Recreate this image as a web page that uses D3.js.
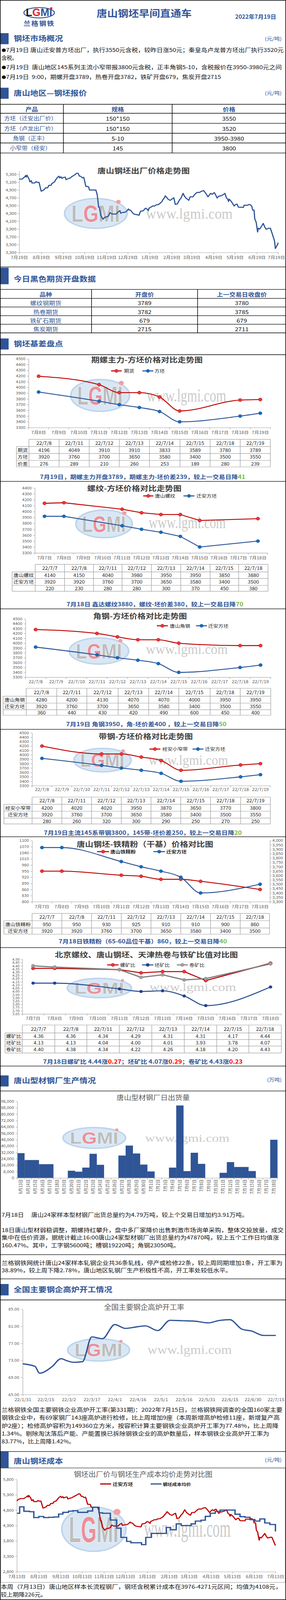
<!DOCTYPE html>
<html>
<head>
<meta charset="utf-8">
<script src="https://d3js.org/d3.v7.min.js"></script>
<style>
html, body { margin: 0; padding: 0; background: #fff; }
svg { display: block; }
</style>
</head>
<body>
<div id="page"></div>
<script>
const W = 731;
const H = 4633;
const FONT = "'Noto Sans CJK SC','Noto Sans',sans-serif";
const LATIN = "'Liberation Sans','DejaVu Sans',sans-serif";
const SERIF = "'Liberation Serif','DejaVu Serif',serif";
const BLUE = "#2f5597";
const RED = "#c00000";
const RED_MK = "#e8383d";
const BLUE_MK = "#0b6fc2";
const GRAY = "#7f7f7f";
const GREEN = "#77b843";
const GRID = "#a6a6a6";
const AXIS_TXT = "#595959";
const BODY = 15.5;

// ---------- data ----------
const reportDate = "2022年7月19日";
const marketNotes = [
    "7月19日 唐山迁安普方坯出厂，执行3550元含税，较昨日涨50元；秦皇岛卢龙普方坯出厂执行3520元",
    "含税。",
    "7月19日  唐山地区145系列主流小窄带报3800元含税，正丰角钢5-10，含税报价在3950-3980元之间",
    "7月19日  9:00，期螺开盘3789，热卷开盘3782，铁矿开盘679，焦炭开盘2715"
];

const quoteHead = ["产品", "规格", "价格"];
const quoteProducts = ["方坯（迁安出厂价）", "方坯（卢龙出厂价）", "角钢（正丰）", "小窄带（经安）"];
const quoteSpecs = ["150*150", "150*150", "5-10", "145"];
const quotePrices = ["3550", "3520", "3950-3980", "3800"];

const futHead = ["品种", "开盘价", "上一交易日收盘价"];
const futNames = ["螺纹钢期货", "热卷期货", "铁矿石期货", "焦炭期货"];
const futOpen = [3789, 3782, 679, 2715];
const futPrevClose = [3780, 3785, 679, 2711];

// 迁安方坯出厂价 (daily)
const billetSeries = [
    ["2021-07-13",5100],["2021-07-15",5150],["2021-07-19",5180],["2021-07-23",5180],["2021-07-27",5240],
    ["2021-07-28",5270],["2021-07-29",5230],["2021-07-30",5280],["2021-08-02",5180],["2021-08-03",5110],
    ["2021-08-05",5140],["2021-08-06",5080],["2021-08-10",5080],["2021-08-12",5115],["2021-08-13",5095],
    ["2021-08-16",5095],["2021-08-19",4870],["2021-08-20",4875],["2021-08-23",4905],["2021-08-25",4955],
    ["2021-08-28",4955],["2021-08-30",5020],["2021-09-02",5020],["2021-09-03",5065],["2021-09-07",5110],
    ["2021-09-08",5150],["2021-09-11",5225],["2021-09-13",5255],["2021-09-14",5210],["2021-09-16",5240],
    ["2021-09-17",5200],["2021-09-20",5225],["2021-09-22",5230],["2021-09-23",5165],["2021-09-25",5185],
    ["2021-09-27",5195],["2021-09-29",5210],["2021-10-01",5240],["2021-10-05",5285],["2021-10-08",5330],
    ["2021-10-10",5330],["2021-10-12",5255],["2021-10-14",5250],["2021-10-16",5210],["2021-10-18",5225],
    ["2021-10-19",5150],["2021-10-21",4990],["2021-10-24",4990],["2021-10-25",4975],["2021-10-26",4900],
    ["2021-11-04",4900],["2021-11-06",4780],["2021-11-08",4460],["2021-11-09",4460],["2021-11-11",4250],
    ["2021-11-14",4150],["2021-11-16",4190],["2021-11-17",4205],["2021-11-20",4215],["2021-11-22",4235],
    ["2021-11-24",4320],["2021-11-25",4305],["2021-11-27",4285],["2021-12-03",4285],["2021-12-05",4335],
    ["2021-12-08",4370],["2021-12-09",4305],["2021-12-12",4325],["2021-12-16",4335],["2021-12-18",4370],
    ["2021-12-20",4415],["2021-12-21",4385],["2021-12-23",4385],["2021-12-26",4310],["2021-12-28",4280],
    ["2021-12-30",4275],["2022-01-04",4255],["2022-01-05",4310],["2022-01-06",4355],["2022-01-10",4370],
    ["2022-01-13",4435],["2022-01-15",4415],["2022-01-17",4370],["2022-01-18",4435],["2022-01-21",4465],
    ["2022-01-23",4490],["2022-01-26",4490],["2022-01-28",4520],["2022-01-31",4525],["2022-02-03",4565],
    ["2022-02-05",4600],["2022-02-07",4665],["2022-02-08",4680],["2022-02-10",4750],["2022-02-12",4710],
    ["2022-02-14",4660],["2022-02-17",4635],["2022-02-19",4665],["2022-02-22",4700],["2022-02-24",4530],
    ["2022-02-27",4545],["2022-03-02",4650],["2022-03-04",4690],["2022-03-07",4815],["2022-03-09",4740],
    ["2022-03-11",4695],["2022-03-15",4635],["2022-03-17",4725],["2022-03-21",4725],["2022-03-22",4755],
    ["2022-03-25",4815],["2022-03-27",4840],["2022-03-30",4835],["2022-04-02",4870],["2022-04-05",4885],
    ["2022-04-08",4815],["2022-04-11",4725],["2022-04-13",4775],["2022-04-15",4815],["2022-04-17",4790],
    ["2022-04-20",4835],["2022-04-22",4770],["2022-04-24",4695],["2022-04-26",4740],["2022-04-30",4755],
    ["2022-05-03",4785],["2022-05-05",4815],["2022-05-07",4700],["2022-05-09",4665],["2022-05-10",4605],
    ["2022-05-11",4665],["2022-05-14",4605],["2022-05-18",4490],["2022-05-20",4530],["2022-05-22",4540],
    ["2022-05-24",4460],["2022-05-31",4455],["2022-06-01",4510],["2022-06-06",4510],["2022-06-08",4530],
    ["2022-06-10",4520],["2022-06-12",4475],["2022-06-13",4385],["2022-06-15",4385],["2022-06-16",4160],
    ["2022-06-18",4075],["2022-06-20",3825],["2022-06-21",3920],["2022-06-23",3900],["2022-06-26",3985],
    ["2022-06-28",4045],["2022-06-30",3955],["2022-07-02",3895],["2022-07-06",3920],["2022-07-08",3920],
    ["2022-07-11",3760],["2022-07-12",3700],["2022-07-13",3650],["2022-07-14",3580],["2022-07-15",3400],
    ["2022-07-18",3500],["2022-07-19",3550]
];
const billetTicks = [3300, 3500, 3700, 3900, 4100, 4300, 4500, 4700, 4900, 5100, 5300];

// category axes
const days8to19 = ["7月8日","7月9日","7月10日","7月11日","7月12日","7月13日","7月14日","7月15日","7月16日","7月17日","7月18日","7月19日"];
const days7to18 = ["7月7日","7月8日","7月9日","7月10日","7月11日","7月12日","7月13日","7月14日","7月15日","7月16日","7月17日","7月18日"];
const ymd8to19 = ["22/7/8","22/7/9","22/7/10","22/7/11","22/7/12","22/7/13","22/7/14","22/7/15","22/7/16","22/7/17","22/7/18","22/7/19"];
const trade8to19 = ["22/7/8","22/7/11","22/7/12","22/7/13","22/7/14","22/7/15","22/7/18","22/7/19"];
const trade7to18 = ["22/7/7","22/7/8","22/7/11","22/7/12","22/7/13","22/7/14","22/7/15","22/7/18"];

// 期螺主力-方坯
const rebarFut = [4196, 4049, 3910, 3910, 3833, 3589, 3780, 3789];
const billetFut = [3920, 3760, 3700, 3650, 3580, 3400, 3500, 3550];
const spreadFut = [276, 289, 210, 260, 253, 189, 280, 239];
const ticks3300to4500 = [3300,3400,3500,3600,3700,3800,3900,4000,4100,4200,4300,4400,4500];

// 螺纹-方坯
const rebarTs = [4140, 4150, 4040, 3980, 3950, 3950, 3850, 3880];
const billetRebar = [3920, 3920, 3760, 3700, 3650, 3580, 3400, 3500];
const spreadRebar = [220, 230, 280, 280, 300, 370, 450, 380];
const ticks3300to4400 = [3300,3400,3500,3600,3700,3800,3900,4000,4100,4200,4300,4400];

// 角钢-方坯
const angleTs = [4280, 4200, 4130, 4070, 4070, 4000, 3950, 3950];
const billetAngle = [3920, 3760, 3700, 3650, 3580, 3400, 3500, 3550];
const spreadAngle = [360, 440, 430, 420, 490, 600, 450, 400];

// 带钢-方坯
const stripJa = [4200, 4020, 4020, 3950, 3870, 3650, 3770, 3800];
const billetStrip = [3920, 3760, 3700, 3650, 3580, 3400, 3500, 3550];
const spreadStrip = [280, 260, 320, 300, 290, 250, 270, 250];

// 钢坯-铁精粉
const oreTs = [950, 950, 930, 925, 910, 910, 900, 860];
const billetOre = [3920, 3920, 3760, 3700, 3650, 3580, 3400, 3500];
const oreTicks = [800, 830, 860, 890, 920, 950, 980, 1010, 1040, 1070, 1100];
const oreBilletTicks = [3300,3350,3400,3450,3500,3550,3600,3650,3700,3750,3800,3850,3900,3950,4000];

// 比值
const rebarOre = [4.36, 4.36, 4.34, 4.29, 4.31, 4.31, 4.17, 4.44];
const billetOreRatio = [4.13, 4.13, 4.04, 4.00, 4.01, 3.93, 3.78, 4.07];
const coilOre = [4.40, 4.38, 4.34, 4.22, 4.26, 4.18, 4.20, 4.43];
const ratioTicks = [3.65,3.70,3.75,3.80,3.85,3.90,3.95,4.00,4.05,4.10,4.15,4.20,4.25,4.30,4.35,4.40,4.45,4.50];

// 型材日出货量
const shipDays = ["6月13日","6月14日","6月15日","6月16日","6月17日","6月18日","6月19日","6月20日","6月21日",
    "6月22日","6月23日","6月24日","6月25日","6月26日","6月27日","6月28日","6月29日","6月30日",
    "7月1日","7月2日","7月3日","7月4日","7月5日","7月6日","7月7日","7月8日","7月9日",
    "7月10日","7月11日","7月12日","7月13日","7月14日","7月15日","7月16日","7月17日","7月18日"];
const shipTons = [31100, 22500, 22500, 17300, 17300, 0, 0, 9100, 7900,
    13000, 30300, 16500, 0, 0, 28100, 40600, 30700, 16800,
    8200, 0, 0, 13000, 90800, 8600, 31600, 17700, 0,
    0, 6500, 19900, 13800, 13800, 8700, 0, 0, 47870];
const shipTicks = [0,8000,16000,24000,32000,40000,48000,56000,64000,72000,80000,88000,96000];

// 全国高炉开工率
const furnaceSeries = [
    ["2022-01-31",72.2],["2022-02-08",71.6],["2022-02-11",70.0],["2022-02-19",71.5],["2022-02-25",73.4],
    ["2022-03-01",72.9],["2022-03-05",72.55],["2022-03-11",72.7],["2022-03-17",78.5],["2022-03-24",78.1],
    ["2022-04-01",81.4],["2022-04-08",80.5],["2022-04-16",80.9],["2022-04-21",81.1],["2022-04-29",80.0],
    ["2022-05-07",82.4],["2022-05-15",82.3],["2022-05-23",82.2],["2022-06-01",81.8],["2022-06-08",82.35],
    ["2022-06-15",82.55],["2022-06-23",80.3],["2022-06-29",79.9],["2022-07-07",78.85],["2022-07-15",78.85]
];
const furnaceTicks = [65, 69, 73, 77, 81, 85];

// 钢坯成本均价 (weekly steps)
const costSeries = [
    ["2021-07-13",4700],["2021-07-17",4910],["2021-07-23",4765],["2021-07-31",4750],["2021-08-06",4560],
    ["2021-08-13",4595],["2021-08-20",4560],["2021-08-27",4570],["2021-09-03",4580],["2021-09-10",4675],
    ["2021-09-16",4730],["2021-09-24",4770],["2021-09-30",4785],["2021-10-07",4730],["2021-10-21",4775],
    ["2021-10-28",4895],["2021-11-06",4715],["2021-11-11",4700],["2021-11-22",4480],["2021-12-01",4215],
    ["2021-12-07",3915],["2021-12-15",3785],["2021-12-21",3740],["2022-01-05",3680],["2022-01-11",3915],
    ["2022-01-19",4045],["2022-02-09",4240],["2022-02-15",4165],["2022-02-23",4355],["2022-03-02",4300],
    ["2022-03-16",4355],["2022-03-22",4445],["2022-03-30",4475],["2022-04-05",4600],["2022-04-12",4700],
    ["2022-04-19",4760],["2022-04-26",4805],["2022-05-17",4670],["2022-05-24",4590],["2022-05-31",4570],
    ["2022-06-07",4495],["2022-06-14",4445],["2022-06-21",4515],["2022-06-28",4385],["2022-07-05",4335],
    ["2022-07-13",4108]
];
const costTicks = [2800, 3300, 3800, 4300, 4800, 5300, 5800];

const shipNote = ["7月18日", "唐山24家样本型材钢厂出货总量约为4.79万吨，较上个交易日增加约3.91万吨。"];
const shipPara = [
    "18日唐山型材弱稳调整，期螺持红攀升，盘中多厂家降价出售刺激市场询单采购，整体交投放量，成交",
    "集中在低价资源，据统计截止16:00唐山24家型材钢厂出货总量约为47870吨，较上五个工作日均值涨",
    "160.47%。其中，工字钢5600吨；槽钢19220吨；角钢23050吨。"
];
const millPara = [
    "兰格钢铁网统计唐山24家样本轧钢企业共36条轧线，停产或检修22条，较上周同期增加1条，开工率为",
    "38.89%，较上周下降2.78%，唐山地区轧钢厂生产积极性不高，开工率处较低水平。"
];
const furnacePara = [
    "兰格钢铁全国主要钢铁企业高炉开工率(第331期)：2022年7月15日，兰格钢铁网调查的全国160家主要",
    "钢铁企业中，有69家钢厂143座高炉进行检修，比上周增加9座（本周新增高炉检修11座，新增复产高",
    "炉2座）；检修高炉容积为149360立方米，按容积计算主要钢铁企业高炉开工率为77.48%，比上周降",
    "1.34%。剔除淘汰落后产能、产能置换已拆除钢铁企业的高炉数量后，样本钢铁企业高炉开工率为",
    "83.77%，比上周降1.42%。"
];
const costPara = [
    "本周（7月13日）唐山地区样本长流程钢厂，钢坯含税累计成本在3976-4271元区间；均值为4108元，",
    "较上期降226元。"
];

// ---------- helpers ----------
const parseDate = d3.timeParse("%Y-%m-%d");
const dayNum = s => +s.match(/(\d+)\D*$/)[1];

// the whole sheet is laid out on a 731x4633 canvas; if the window turns out
// shorter than that, squeeze it vertically so nothing drops off the bottom
const viewH = Math.min(H, window.innerHeight || H);

const svg = d3.select("#page").append("svg")
    .attr("width", W).attr("height", viewH)
    .attr("viewBox", `0 0 ${W} ${H}`)
    .attr("preserveAspectRatio", "none")
    .attr("font-family", FONT);
svg.append("rect").attr("width", W).attr("height", H).attr("fill", "#fff");

const txt = (parent, x, y, s, o = {}) => {
    const t = parent.append("text")
        .attr("x", x).attr("y", y)
        .attr("font-size", o.size || 16)
        .attr("font-weight", o.weight || 400)
        .attr("fill", o.fill || "#000")
        .attr("text-anchor", o.anchor || "start")
        .style("white-space", "pre");
    if (o.len) t.attr("textLength", o.len).attr("lengthAdjust", "spacingAndGlyphs");
    t.text(s);
    return t;
};

const hline = (y, color = "#000", sw = 1.5) => {
    svg.append("line").attr("x1", 0).attr("x2", W).attr("y1", y).attr("y2", y)
        .attr("stroke", color).attr("stroke-width", sw);
};

const sectionHead = (y0, y1, base, title, unit, unitBase) => {
    svg.append("rect").attr("x", 0).attr("y", y0).attr("width", 22).attr("height", y1 - y0).attr("fill", BLUE);
    txt(svg, 35, base, title, { size: 21, weight: 700, fill: BLUE });
    if (unit) txt(svg, 720, unitBase, unit, { size: 14, fill: BLUE, anchor: "end" });
};

const textBlock = (lines, lens, x, y0, lh) => {
    lines.forEach((s, i) => txt(svg, x, y0 + i * lh, s, { size: BODY, len: lens[i], fill: "#111" }));
};

const axisStyle = (sel, fs) => {
    sel.attr("font-family", FONT).attr("font-size", fs);
    sel.select(".domain").attr("stroke", GRID).attr("stroke-width", 1.2);
    sel.selectAll(".tick line").attr("stroke", GRID).attr("stroke-width", 1.2);
    sel.selectAll(".tick text").attr("fill", AXIS_TXT);
};

const grid = p => {
    const g = svg.append("g");
    const { cols, rows } = p;
    const xr = cols[cols.length - 1], yb = rows[rows.length - 1];
    rows.forEach((ry, i) => {
        g.append("line").attr("x1", p.corner && i === 0 ? cols[1] : cols[0]).attr("x2", xr)
            .attr("y1", ry).attr("y2", ry).attr("stroke", p.stroke).attr("stroke-width", p.sw);
    });
    cols.forEach((cx, j) => {
        g.append("line").attr("x1", cx).attr("x2", cx)
            .attr("y1", p.corner && j === 0 ? rows[1] : rows[0]).attr("y2", yb)
            .attr("stroke", p.stroke).attr("stroke-width", p.sw);
    });
    p.cells.forEach((row, i) => row.forEach((s, j) => {
        if (s === "" || s == null) return;
        const st = p.style(i, j);
        g.append("text")
            .attr("x", (cols[j] + cols[j + 1]) / 2 + (st.dx || 0))
            .attr("y", (rows[i] + rows[i + 1]) / 2)
            .attr("dominant-baseline", "central").attr("text-anchor", "middle")
            .attr("font-size", st.size).attr("font-weight", st.weight || 400)
            .attr("fill", st.fill).text(s);
    }));
};

const chartTable = (cols, rows, header, body) => grid({
    cols, rows, corner: true, stroke: "#a0a0a0", sw: 1.3,
    cells: [[""].concat(header)].concat(body),
    style: () => ({ size: 13, fill: "#222" })
});

// LGMI watermark: pale ellipse logo plus the site address
const watermark = (g, w) => {
    g.append("ellipse").attr("cx", w.cx).attr("cy", w.cy).attr("rx", w.rx).attr("ry", w.ry)
        .attr("fill", "#d3e3f3").attr("stroke", "#b2cde9").attr("stroke-width", 4).attr("opacity", 0.85);
    const fs = w.rx * 0.62;
    const sy = (w.ry * 1.17) / (0.72 * fs);
    const t = g.append("text")
        .attr("transform", `translate(${w.cx - w.rx * 0.78},${w.cy + w.ry * 0.58}) scale(1,${sy})`)
        .attr("font-family", LATIN).attr("font-weight", "bold").attr("font-size", fs)
        .attr("stroke", "#fff").attr("stroke-width", 1.2).attr("paint-order", "stroke");
    [["L", "#bdbdbd"], ["G", "#eb8f98"], ["M", "#bdbdbd"], ["I", "#bdbdbd"]]
        .forEach(([ch, col]) => t.append("tspan").attr("fill", col).text(ch));
    g.append("circle").attr("cx", w.cx + w.rx * 0.72).attr("cy", w.cy - w.ry * 0.78)
        .attr("r", w.ry * 0.14).attr("fill", "#f0a0a4");
    g.append("text").attr("transform", `translate(${w.tx},${w.ty}) scale(1,${w.sy || 1})`)
        .attr("font-family", SERIF).attr("font-size", w.fs).attr("fill", "#cacaca")
        .text("www.lgmi.com");
};

const chartTitle = (g, t) => {
    g.append("text").attr("x", t.x).attr("y", t.y)
        .attr("font-size", t.size || 21).attr("font-weight", t.weight ?? 700)
        .attr("fill", t.fill || "#404040")
        .attr("textLength", t.len).attr("lengthAdjust", "spacingAndGlyphs")
        .text(t.text);
};

const legendItem = (g, it) => {
    g.append("line").attr("x1", it.x).attr("x2", it.x + it.len).attr("y1", it.y).attr("y2", it.y)
        .attr("stroke", it.color).attr("stroke-width", it.sw || 3);
    if (it.fill) {
        g.append("circle").attr("cx", it.x + it.len / 2).attr("cy", it.y).attr("r", 4.5)
            .attr("fill", it.fill).attr("stroke", it.color).attr("stroke-width", 1);
    }
    g.append("text").attr("x", it.tx).attr("y", it.y).attr("dominant-baseline", "central")
        .attr("font-size", it.size || 13).attr("font-weight", it.weight || 400)
        .attr("fill", "#262626").text(it.label);
};

const summary = (x, y, len, parts) => {
    const t = svg.append("text").attr("x", x).attr("y", y).attr("font-size", 16).attr("font-weight", 700)
        .attr("textLength", len).attr("lengthAdjust", "spacingAndGlyphs").style("white-space", "pre");
    parts.forEach(([s, c]) => t.append("tspan").attr("fill", c || BLUE).text(s));
};

const catChart = c => {
    const g = svg.append("g");
    if (c.wm) watermark(g, c.wm);
    const x = d3.scaleBand().domain(c.cats).range([c.x0, c.x1]);
    const bw = x.bandwidth();
    const yL = d3.scaleLinear().domain([c.ticks[0], c.ticks[c.ticks.length - 1]]).range([c.yb, c.yt]);
    g.append("g").attr("transform", `translate(${c.x0},0)`)
        .call(d3.axisLeft(yL).tickValues(c.ticks).tickFormat(c.fmt || d3.format("d"))
            .tickSize(4).tickPadding(c.yPad || 4).tickSizeOuter(0))
        .call(axisStyle, c.yFont || 11);
    let yR = null;
    if (c.ticksR) {
        yR = d3.scaleLinear().domain([c.ticksR[0], c.ticksR[c.ticksR.length - 1]]).range([c.yb, c.yt]);
        g.append("g").attr("transform", `translate(${c.x1},0)`)
            .call(d3.axisRight(yR).tickValues(c.ticksR).tickSize(4).tickPadding(2).tickSizeOuter(0))
            .call(axisStyle, 11);
    }
    const xa = g.append("g").attr("transform", `translate(0,${c.yb})`)
        .call(d3.axisBottom(x).tickSize(0).tickPadding(c.labelBase - c.yb - 8.5).tickSizeOuter(0))
        .call(axisStyle, 12);
    xa.selectAll("line.bound").data(c.cats.map(d => x(d)).concat([c.x1])).join("line")
        .attr("class", "bound").attr("x1", d => d).attr("x2", d => d).attr("y1", 0).attr("y2", 5)
        .attr("stroke", GRID).attr("stroke-width", 1.2);
    chartTitle(g, c.title);
    c.series.forEach(s => {
        const ys = s.right ? yR : yL;
        const pts = s.dates.map((d, i) => {
            const cat = c.cats.find(k => dayNum(k) === dayNum(d));
            return [x(cat) + bw / 2, ys(s.values[i])];
        });
        g.append("path")
            .attr("d", d3.line().curve(s.smooth ? d3.curveMonotoneX : d3.curveLinear)(pts))
            .attr("fill", "none").attr("stroke", s.color).attr("stroke-width", s.sw || 2.6)
            .attr("stroke-linejoin", "round");
        g.selectAll(null).data(pts).join("circle")
            .attr("cx", d => d[0]).attr("cy", d => d[1]).attr("r", s.r || 4.5)
            .attr("fill", s.fill).attr("stroke", s.color).attr("stroke-width", 1);
    });
    c.series.forEach(s => legendItem(g, Object.assign({ color: s.color, fill: s.fill, label: s.label }, s.legend)));
};

// ---------- header ----------
const logo = svg.append("g");
logo.append("ellipse").attr("cx", 100).attr("cy", 37).attr("rx", 39).attr("ry", 15)
    .attr("fill", "#fff").attr("stroke", BLUE).attr("stroke-width", 2.5);
const logoText = logo.append("text").attr("transform", "translate(66,46) scale(1,1.15)")
    .attr("font-family", LATIN).attr("font-weight", "bold").attr("font-size", 27);
[["L", "#1a1a1a"], ["G", "#d7262e"], ["M", BLUE], ["I", BLUE]]
    .forEach(([ch, col]) => logoText.append("tspan").attr("fill", col).text(ch));
logo.append("circle").attr("cx", 131).attr("cy", 24).attr("r", 3).attr("fill", "#e02a2a");
txt(svg, 100, 75, "兰格钢铁", { size: 18, weight: 700, fill: BLUE, anchor: "middle" }).attr("letter-spacing", 2);

txt(svg, 247, 49, "唐山钢坯早间直通车", { size: 27, weight: 700, fill: BLUE, len: 243 });
txt(svg, 601, 54, reportDate, { size: 16, weight: 700, fill: BLUE, len: 105 });

// ---------- 钢坯市场概况 ----------
sectionHead(96, 128, 119, "钢坯市场概况", "(元/吨)", 118);
const noteLayout = [
    { y: 150, len: 721, dot: true }, { y: 173, len: 40, dot: false },
    { y: 200, len: 716, dot: true }, { y: 228, len: 561, dot: true }
];
marketNotes.forEach((s, i) => {
    const L = noteLayout[i];
    const t = svg.append("text").attr("x", 4).attr("y", L.y).attr("font-size", BODY).attr("fill", "#111")
        .attr("textLength", L.len).attr("lengthAdjust", "spacingAndGlyphs").style("white-space", "pre");
    if (L.dot) t.append("tspan").attr("font-size", 11).text("●");
    t.append("tspan").attr("font-size", BODY).text(s);
});

// ---------- 唐山地区—钢坯报价 ----------
sectionHead(254, 286, 277, "唐山地区—钢坯报价", "(元/吨)", 275);
grid({
    cols: [0, 162, 440, 731], rows: [302, 328, 357, 386, 414, 443], stroke: "#000", sw: 1.5,
    cells: [quoteHead].concat(quoteProducts.map((p, i) => [p, quoteSpecs[i], quotePrices[i]])),
    style: (i, j) => i === 0 ? { size: 16, weight: 700, fill: BLUE }
        : j === 0 ? { size: 15, fill: BLUE, dx: -3 } : { size: 16, fill: "#111" }
});

// ---------- 唐山钢坯出厂价格走势图 ----------
(() => {
    const g = svg.append("g");
    watermark(g, { cx: 245, cy: 618, rx: 80, ry: 43, tx: 373, ty: 633, fs: 36, sy: 1.2 });
    const x = d3.scaleTime().domain([parseDate("2021-07-19"), parseDate("2022-07-19")]).range([49, 711]);
    const y0 = d3.scaleLinear().domain([3300, 5300]).range([731, 505]);
    const y = d3.scaleLinear().domain([3300, 5390]).range([731, y0(5390)]);
    g.append("g").attr("transform", "translate(49,0)")
        .call(d3.axisLeft(y).tickValues(billetTicks).tickSize(4).tickPadding(3).tickSizeOuter(0))
        .call(axisStyle, 11);
    const months = d3.range(13).map(i => d3.timeMonth.offset(x.domain()[0], i));
    const xa = g.append("g").attr("transform", "translate(0,731)")
        .call(d3.axisBottom(x).tickValues(months).tickFormat(d3.timeFormat("%-m月%-d日"))
            .tickSize(5).tickPadding(5.5).tickSizeOuter(0))
        .call(axisStyle, 12);
    // last label sits against the frame, as in the source
    xa.selectAll(".tick text").filter((d, i, n) => i === n.length - 1)
        .attr("text-anchor", "end").attr("x", 17);
    chartTitle(g, { text: "唐山钢坯出厂价格走势图", x: 249, y: 502, len: 236 });
    const pts = billetSeries.map(([d, v]) => ({ date: parseDate(d), v }))
        .filter(d => d.date >= x.domain()[0] && d.date <= x.domain()[1]);
    g.append("path")
        .attr("d", d3.line().x(d => x(d.date)).y(d => y(d.v))(pts))
        .attr("fill", "none").attr("stroke", BLUE).attr("stroke-width", 3).attr("stroke-linejoin", "round");
})();
hline(773);

// ---------- 今日黑色期货开盘数据 ----------
sectionHead(775, 823, 815, "今日黑色期货开盘数据");
grid({
    cols: [0, 234, 505, 731], rows: [838, 864, 889, 914, 939, 964], stroke: "#000", sw: 1.5,
    cells: [futHead].concat(futNames.map((n, i) => [n, String(futOpen[i]), String(futPrevClose[i])])),
    style: (i, j) => i === 0 ? { size: 16, weight: 700, fill: BLUE }
        : j === 0 ? { size: 16, fill: BLUE } : { size: 16, fill: "#111" }
});

// ---------- 钢坯基差盘点 ----------
sectionHead(980, 1012, 1003, "钢坯基差盘点");
hline(1027);

catChart({
    cats: days8to19, x0: 73, x1: 691, yt: 1039, yb: 1238, ticks: ticks3300to4500, labelBase: 1257,
    title: { text: "期螺主力-方坯价格对比走势图", x: 233, y: 1050, len: 285 },
    wm: { cx: 256, cy: 1145, rx: 75, ry: 46, tx: 375, ty: 1163, fs: 33, sy: 1.6 },
    series: [
        { dates: trade8to19, values: rebarFut, color: RED, fill: RED_MK, smooth: true, label: "期货",
          legend: { x: 284, y: 1074, len: 27, tx: 317 } },
        { dates: trade8to19, values: billetFut, color: BLUE, fill: BLUE_MK, smooth: true, label: "方坯",
          legend: { x: 364, y: 1074, len: 28, tx: 395 } }
    ]
});
chartTable([42, 74, 151, 228, 305, 382, 460, 537, 614, 691], [1272, 1293, 1313, 1333, 1352], trade8to19,
    [["期货"].concat(rebarFut), ["方坯"].concat(billetFut), ["价差"].concat(spreadFut)]);
summary(102, 1387, 525, [["7月19日，期螺主力开盘3789，期螺主力-坯价差239，较上一交易日降"], ["41", GREEN]]);
hline(1394);

catChart({
    cats: days7to18, x0: 89, x1: 684, yt: 1413, yb: 1601, ticks: ticks3300to4400, labelBase: 1620,
    title: { text: "螺纹-方坯价格对比走势图", x: 223, y: 1422, len: 241 },
    wm: { cx: 266, cy: 1517, rx: 72, ry: 40, tx: 380, ty: 1529, fs: 32, sy: 1.55 },
    series: [
        { dates: trade7to18, values: rebarTs, color: RED, fill: RED_MK, smooth: false, label: "唐山螺纹",
          legend: { x: 366, y: 1436, len: 26, tx: 396 } },
        { dates: trade7to18, values: billetRebar, color: BLUE, fill: BLUE_MK, smooth: false, label: "迁安方坯",
          legend: { x: 469, y: 1436, len: 28, tx: 502 } }
    ]
});
chartTable([31, 90, 165, 239, 312, 387, 462, 537, 610, 685], [1634, 1656, 1675, 1695, 1712], trade7to18,
    [["唐山螺纹"].concat(rebarTs), ["迁安方坯"].concat(billetRebar), [""].concat(spreadRebar)]);
summary(170, 1755, 452, [["7月18日 鑫达螺纹3880，螺纹-坯价差380，较上一交易日降"], ["70", GREEN]]);
hline(1763);

catChart({
    cats: ymd8to19, x0: 65, x1: 692, yt: 1792, yb: 1961, ticks: ticks3300to4500, labelBase: 1978,
    title: { text: "角钢-方坯价格对比走势图", x: 238, y: 1792, len: 240 },
    wm: { cx: 253, cy: 1885, rx: 76, ry: 38, tx: 373, ty: 1894, fs: 34, sy: 1.2 },
    series: [
        { dates: trade8to19, values: angleTs, color: RED, fill: RED_MK, smooth: true, label: "唐山角钢",
          legend: { x: 401, y: 1812, len: 28, tx: 434 } },
        { dates: trade8to19, values: billetAngle, color: BLUE, fill: BLUE_MK, smooth: true, label: "迁安方坯",
          legend: { x: 501, y: 1812, len: 28, tx: 532 } }
    ]
});
chartTable([8, 67, 145, 222, 302, 380, 457, 537, 614, 692], [1993, 2016, 2036, 2055, 2071], trade8to19,
    [["唐山角钢"].concat(angleTs), ["迁安方坯"].concat(billetAngle), [""].concat(spreadAngle)]);
summary(169, 2103, 410, [["7月19日 角钢3950，角-坯价差400 ，较上一交易日降"], ["50", GREEN]]);
hline(2112);

catChart({
    cats: ymd8to19, x0: 82, x1: 691, yt: 2122, yb: 2275, ticks: ticks3300to4500, labelBase: 2290,
    title: { text: "带钢-方坯价格对比走势图", x: 252, y: 2140, len: 241 },
    wm: { cx: 262, cy: 2201, rx: 73, ry: 34, tx: 380, ty: 2215, fs: 33, sy: 1.2 },
    series: [
        { dates: trade8to19, values: stripJa, color: RED, fill: RED_MK, smooth: true, label: "经安小窄带",
          legend: { x: 382, y: 2169, len: 28, tx: 415 } },
        { dates: trade8to19, values: billetStrip, color: BLUE, fill: BLUE_MK, smooth: true, label: "迁安方坯",
          legend: { x: 492, y: 2169, len: 28, tx: 524 } }
    ]
});
chartTable([10, 82, 158, 234, 310, 386, 462, 538, 615, 691], [2308, 2329, 2349, 2369, 2386], trade8to19,
    [["经安小窄带"].concat(stripJa), ["迁安方坯"].concat(billetStrip), [""].concat(spreadStrip)]);
summary(112, 2417, 506, [["7月19日主流145系带钢3800，145带-坯价差250，较上一交易日降"], ["20", GREEN]]);
hline(2423);

catChart({
    cats: days7to18, x0: 82, x1: 690, yt: 2434, yb: 2611, ticks: oreTicks, ticksR: oreBilletTicks, labelBase: 2630,
    title: { text: "唐山钢坯-铁精粉（干基）价格对比图", x: 196, y: 2452, len: 349 },
    series: [
        { dates: trade7to18, values: oreTs, color: RED, fill: RED_MK, smooth: true, label: "唐山铁精粉",
          legend: { x: 248, y: 2466, len: 31, tx: 282, weight: 700 } },
        { dates: trade7to18, values: billetOre, right: true, color: BLUE, fill: BLUE_MK, smooth: true, label: "迁安方坯",
          legend: { x: 392, y: 2466, len: 30, tx: 425, weight: 700 } }
    ]
});
chartTable([10, 82, 158, 234, 310, 386, 462, 538, 614, 689], [2645, 2666, 2687, 2705], trade7to18,
    [["唐山铁精粉"].concat(oreTs), ["迁安方坯"].concat(billetOre)]);
summary(150, 2732, 430, [["7月18日铁精粉（65-60品位干基）860，较上一交易日降"], ["40", GREEN]]);
hline(2744);

catChart({
    cats: days7to18, x0: 57, x1: 719, yt: 2778, yb: 2936, ticks: ratioTicks, labelBase: 2953,
    fmt: d3.format(".2f"), yFont: 9.5, yPad: 3,
    title: { text: "北京螺纹、唐山钢坯、天津热卷与铁矿比值对比图", x: 140, y: 2772, len: 468 },
    wm: { cx: 254, cy: 2861, rx: 82, ry: 28, tx: 382, ty: 2870, fs: 36, sy: 0.9 },
    series: [
        { dates: trade7to18, values: rebarOre, color: RED, fill: RED_MK, smooth: false, sw: 3, label: "螺矿比",
          legend: { x: 274, y: 2794, len: 29, tx: 307 } },
        { dates: trade7to18, values: billetOreRatio, color: BLUE, fill: "#1f3f8f", smooth: true, sw: 3, r: 4, label: "坯矿比",
          legend: { x: 363, y: 2794, len: 29, tx: 395 } },
        { dates: trade7to18, values: coilOre, color: GRAY, fill: "#a0a0a0", smooth: false, sw: 3.5, label: "卷矿比",
          legend: { x: 452, y: 2794, len: 28, tx: 484 } }
    ]
});
chartTable([13, 57, 140, 222, 305, 388, 471, 554, 636, 719], [2968, 2991, 3010, 3029, 3049], trade7to18,
    [["螺矿比"].concat(rebarOre.map(d3.format(".2f"))),
     ["坯矿比"].concat(billetOreRatio.map(d3.format(".2f"))),
     ["卷矿比"].concat(coilOre.map(d3.format(".2f")))]);
summary(110, 3080, 510, [["7月18日螺矿比 4.44涨"], ["0.27", "#ff0000"], ["；坯矿比 4.07涨"], ["0.29", "#ff0000"],
    ["；卷矿比 4.43涨"], ["0.23", "#ff0000"]]);
hline(3087);

// ---------- 唐山型材钢厂生产情况 ----------
sectionHead(3114, 3146, 3137, "唐山型材钢厂生产情况", "(万吨)", 3132);
hline(3159);
(() => {
    const g = svg.append("g");
    watermark(g, { cx: 241, cy: 3295, rx: 80, ry: 30, tx: 371, ty: 3306, fs: 35, sy: 0.9 });
    const x = d3.scaleBand().domain(shipDays).range([44, 709]);
    const y = d3.scaleLinear().domain([0, 96000]).range([3411, 3189]);
    chartTitle(g, { text: "唐山型材钢厂日出货量", x: 298, y: 3185, len: 187, size: 19, weight: 400, fill: "#595959" });
    g.selectAll(null).data(shipTons).join("rect")
        .attr("x", (d, i) => x(shipDays[i])).attr("width", x.bandwidth() + 0.3)
        .attr("y", d => y(d)).attr("height", d => y(0) - y(d)).attr("fill", BLUE);
    g.append("g").attr("transform", "translate(44,0)")
        .call(d3.axisLeft(y).tickValues(shipTicks).tickSize(4).tickPadding(4).tickSizeOuter(0))
        .call(axisStyle, 11);
    const xa = g.append("g").attr("transform", "translate(0,3411)")
        .call(d3.axisBottom(x).tickSize(0).tickSizeOuter(0))
        .call(axisStyle, 11.5);
    xa.selectAll(".tick text").attr("transform", "rotate(-90)").attr("text-anchor", "end")
        .attr("x", -4).attr("y", 0).attr("dy", "0.35em");
    xa.selectAll("line.bound").data(shipDays.map(d => x(d)).concat([709])).join("line")
        .attr("class", "bound").attr("x1", d => d).attr("x2", d => d).attr("y1", 0).attr("y2", 5)
        .attr("stroke", GRID).attr("stroke-width", 1.2);
})();
txt(svg, 4, 3523, shipNote[0], { size: BODY, fill: "#111", len: 57 });
txt(svg, 80, 3523, shipNote[1], { size: BODY, fill: "#111", len: 554 });
textBlock(shipPara, [721, 709, 455], 4, 3567, 22.5);
hline(3633);
textBlock(millPara, [718, 588], 4, 3662, 22);
hline(3703);

// ---------- 全国主要钢企高炉开工情况 ----------
sectionHead(3718, 3751, 3742, "全国主要钢企高炉开工情况");
hline(3764);
(() => {
    const g = svg.append("g");
    watermark(g, { cx: 252, cy: 3909, rx: 79, ry: 32, tx: 377, ty: 3920, fs: 35, sy: 1.05 });
    const start = parseDate("2022-01-31");
    const x = d3.scaleTime().domain([start, parseDate("2022-07-15")]).range([58, 705]);
    const y = d3.scaleLinear().domain([65, 85]).range([4038, 3791]);
    g.append("g").attr("transform", "translate(58,0)")
        .call(d3.axisLeft(y).tickValues(furnaceTicks).tickFormat(d3.format(".2f"))
            .tickSize(4).tickPadding(5).tickSizeOuter(0))
        .call(axisStyle, 11);
    const ticks = d3.range(12).map(i => d3.timeDay.offset(start, 15 * i));
    g.append("g").attr("transform", "translate(0,4038)")
        .call(d3.axisBottom(x).tickValues(ticks).tickFormat(d3.timeFormat("%y/%-m/%-d"))
            .tickSize(5).tickPadding(5.5).tickSizeOuter(0))
        .call(axisStyle, 12);
    chartTitle(g, { text: "全国主要钢企高炉开工率", x: 266, y: 3793, len: 205, size: 20, weight: 400, fill: "#595959" });
    g.append("path")
        .attr("d", d3.line().curve(d3.curveMonotoneX)
            .x(d => x(parseDate(d[0]))).y(d => y(d[1]))(furnaceSeries))
        .attr("fill", "none").attr("stroke", BLUE).attr("stroke-width", 3.5).attr("stroke-linejoin", "round");
})();
textBlock(furnacePara, [718, 711, 708, 684, 187], 4, 4088, 23);
hline(4203);

// ---------- 唐山钢坯成本 ----------
sectionHead(4203, 4251, 4238, "唐山钢坯成本", "(元/吨)", 4233);
hline(4251);
svg.append("rect").attr("x", 2).attr("y", 4251).attr("width", 727).attr("height", 331)
    .attr("fill", "none").attr("stroke", "#999").attr("stroke-width", 1.2);
(() => {
    const g = svg.append("g");
    watermark(g, { cx: 240, cy: 4428, rx: 82, ry: 64, tx: 368, ty: 4450, fs: 36, sy: 2.0 });
    const start = parseDate("2021-07-13"), end = parseDate("2022-07-13");
    const x = d3.scaleTime().domain([start, end]).range([43, 704]);
    const y = d3.scaleLinear().domain([2800, 5800]).range([4551, 4284]);
    g.append("g").attr("transform", "translate(43,0)")
        .call(d3.axisLeft(y).tickValues(costTicks).tickSize(4).tickPadding(4).tickSizeOuter(0))
        .call(axisStyle, 11);
    const months = d3.range(13).map(i => d3.timeMonth.offset(start, i));
    g.append("g").attr("transform", "translate(0,4551)")
        .call(d3.axisBottom(x).tickValues(months).tickFormat(d3.timeFormat("%-m月%-d日"))
            .tickSize(5).tickPadding(5.5).tickSizeOuter(0))
        .call(axisStyle, 12);
    chartTitle(g, { text: "钢坯出厂价与钢坯生产成本均价走势对比图", x: 189, y: 4277, len: 354, size: 20, weight: 400, fill: "#595959" });
    const red = billetSeries.map(([d, v]) => ({ date: parseDate(d), v }))
        .filter(d => d.date >= start && d.date <= end);
    g.append("path")
        .attr("d", d3.line().x(d => x(d.date)).y(d => y(d.v))(red))
        .attr("fill", "none").attr("stroke", RED).attr("stroke-width", 3).attr("stroke-linejoin", "round");
    g.append("path")
        .attr("d", d3.line().curve(d3.curveStepAfter).x(d => x(parseDate(d[0]))).y(d => y(d[1]))(costSeries))
        .attr("fill", "none").attr("stroke", BLUE).attr("stroke-width", 3.5);
    legendItem(g, { x: 256, y: 4297, len: 28, tx: 288, color: RED, label: "迁安方坯", size: 13, weight: 700, sw: 3.5 });
    legendItem(g, { x: 385, y: 4297, len: 28, tx: 416, color: BLUE, label: "钢坯成本均价", size: 12, weight: 700, sw: 3.5 });
})();
textBlock(costPara, [718, 117], 2, 4600, 23);

// outer frame drawn last so it stays on top
svg.append("rect").attr("x", 0.75).attr("y", 0.75).attr("width", W - 1.5).attr("height", H - 1.5)
    .attr("fill", "none").attr("stroke", "#000").attr("stroke-width", 1.5)
    .attr("vector-effect", "non-scaling-stroke");
</script>
</body>
</html>
